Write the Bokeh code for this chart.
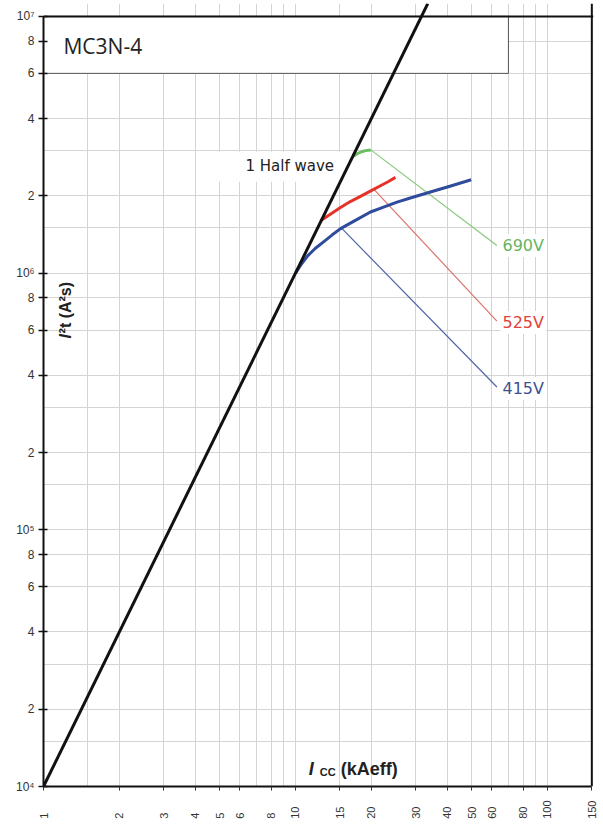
from math import pi
from bokeh.plotting import figure
from bokeh.models import FixedTicker, Span, Label, Range1d
from bokeh.embed import file_html
from bokeh.resources import INLINE

# ---------------- data ----------------
x_tick_values = [1, 2, 3, 4, 5, 6, 8, 10, 15, 20, 30, 40, 50, 60, 80, 100, 150]
x_tick_labels = ["1", "2", "3", "4", "5", "6", "8", "10", "15", "20", "30", "40", "50", "60", "80", "100", "150"]
x_grid_values = [1.5, 2, 3, 4, 5, 6, 7, 8, 9, 10, 15, 20, 30, 40, 50, 60, 70, 80, 90, 100]

y_tick_values = [10000, 20000, 40000, 60000, 80000,
                 100000, 200000, 400000, 600000, 800000,
                 1000000, 2000000, 4000000, 6000000, 8000000, 10000000]
y_tick_labels = ["10⁴", "2", "4", "6", "8",
                 "10⁵", "2", "4", "6", "8",
                 "10⁶", "2", "4", "6", "8", "10⁷"]
y_grid_values = [m * 10 ** e for e in (4, 5, 6) for m in (1, 1.5, 2, 3, 4, 6, 8)]

# 1 half wave line (I²t = I² * 1e4 with I in kA)
half_wave_I = [1.0, 33.5]
half_wave_I2t = [1.0e4, 1.122e7]

# let-through curves
c690_I = [17.0, 17.6, 18.3, 19.0, 19.9]
c690_I2t = [2.85e6, 2.92e6, 2.97e6, 3.0e6, 3.02e6]
c525_I = [12.57, 13.8, 15.09, 16.5, 18.11, 19.9, 21.74, 23.3, 24.93]
c525_I2t = [1.60e6, 1.70e6, 1.80e6, 1.90e6, 1.99e6, 2.09e6, 2.19e6, 2.27e6, 2.36e6]
c415_I = [10.0, 10.5, 11.2, 12.0, 13.0, 14.0, 15.1, 17.0, 19.85, 22.5, 25.3, 29.0, 34.3, 41.0, 49.8]
c415_I2t = [1.0e6, 1.076e6, 1.17e6, 1.25e6, 1.33e6, 1.41e6, 1.49e6, 1.59e6, 1.73e6,
            1.81e6, 1.89e6, 1.97e6, 2.07e6, 2.18e6, 2.31e6]

# leader lines to the voltage labels
l690_I = [19.9, 63.0]
l690_I2t = [3.02e6, 1.28e6]
l525_I = [20.4, 63.0]
l525_I2t = [2.13e6, 6.5e5]
l415_I = [15.3, 63.0]
l415_I2t = [1.49e6, 3.6e5]

voltage_labels = ["690V", "525V", "415V"]
voltage_label_I = [65.1, 65.1, 65.1]
voltage_label_I2t = [1.28e6, 6.42e5, 3.55e5]

GREEN, GREEN_THIN, GREEN_TXT = "#6abf5e", "#86c97b", "#67b45f"
RED, RED_THIN, RED_TXT = "#e5332a", "#d9736c", "#e3423a"
BLUE, BLUE_THIN, BLUE_TXT = "#2f4b9c", "#5066a8", "#3d5193"
voltage_colors = [GREEN_TXT, RED_TXT, BLUE_TXT]

# ---------------- figure ----------------
p = figure(width=600, height=826, x_axis_type="log", y_axis_type="log",
           x_range=Range1d(1, 152.3), y_range=Range1d(1e4, 10 ** 7.0503),
           output_backend="svg", toolbar_location=None,
           min_border_left=43, min_border_right=7, min_border_top=3, min_border_bottom=40,
           background_fill_color="white", border_fill_color="white",
           outline_line_color=None)

# grid
p.xgrid.ticker = FixedTicker(ticks=x_grid_values)
p.ygrid.ticker = FixedTicker(ticks=y_grid_values)
p.xgrid.grid_line_color = "#d4d4d4"
p.ygrid.grid_line_color = "#d4d4d4"
p.xgrid.grid_line_width = 1
p.ygrid.grid_line_width = 1

# left axis
ya = p.yaxis[0]
ya.ticker = FixedTicker(ticks=y_tick_values)
ya.major_label_overrides = dict(zip(y_tick_values, y_tick_labels))
ya.bounds = (1e4, 1e7)
ya.axis_line_width = 2
ya.axis_line_color = "#111111"
ya.major_tick_out = 5
ya.major_tick_in = 4
ya.major_tick_line_width = 1.5
ya.major_tick_line_color = "#111111"
ya.minor_tick_line_color = None
ya.major_label_standoff = 4
ya.major_label_text_font = "Liberation Sans"
ya.major_label_text_font_size = "12px"
ya.major_label_text_color = "#333333"

# bottom axis, vertical labels aligned at their start (padded with no-break spaces)
longest = max(len(t) for t in x_tick_labels)
padded = [t + "\u00a0\u00a0" * (longest - len(t)) for t in x_tick_labels]
xa = p.xaxis[0]
xa.ticker = FixedTicker(ticks=x_tick_values)
xa.major_label_overrides = dict(zip(x_tick_values, padded))
xa.major_label_orientation = pi / 2
xa.bounds = (1, 150)
xa.axis_line_width = 2
xa.axis_line_color = "#111111"
xa.major_tick_out = 4
xa.major_tick_in = 0
xa.major_tick_line_color = "#333333"
xa.minor_tick_line_color = None
xa.major_label_standoff = 10
xa.major_label_text_font = "Liberation Sans"
xa.major_label_text_font_size = "11px"
xa.major_label_text_color = "#333333"

# top and right frame lines
p.add_layout(Span(location=1e7, dimension="width", line_color="#111111", line_width=2))
p.add_layout(Span(location=150, dimension="height", line_color="#111111", line_width=2))

# title box
p.quad(left=[1], right=[70], bottom=[6e6], top=[1e7],
       fill_color="white", line_color="#555555", line_width=1)
p.add_layout(Label(x=1.2, y=7.7e6, text="MC3N-4", text_font="Open Sans",
                   text_font_size="21px", text_baseline="middle", text_color="#222222"))

# white background behind "1 Half wave"
p.quad(left=[4.6], right=[15.8], bottom=[2.27e6], top=[2.97e6],
       fill_color="white", line_color=None)
p.add_layout(Label(x=6.33, y=2.62e6, text="1 Half wave", text_font="DejaVu Sans",
                   text_font_size="15px", text_baseline="middle", text_color="#222222"))

# leader lines
p.line(l690_I, l690_I2t, line_color=GREEN_THIN, line_width=1.2)
p.line(l525_I, l525_I2t, line_color=RED_THIN, line_width=1.2)
p.line(l415_I, l415_I2t, line_color=BLUE_THIN, line_width=1.2)

# curves
p.line(c415_I, c415_I2t, line_color=BLUE, line_width=3, line_join="round")
p.line(c525_I, c525_I2t, line_color=RED, line_width=3, line_join="round")
p.line(c690_I, c690_I2t, line_color=GREEN, line_width=3, line_join="round")
p.line(half_wave_I, half_wave_I2t, line_color="#111111", line_width=3)

# voltage labels
for txt, xi, yi, col in zip(voltage_labels, voltage_label_I, voltage_label_I2t, voltage_colors):
    p.add_layout(Label(x=xi, y=yi, text=txt, text_font="DejaVu Sans", text_font_size="16px",
                       text_baseline="middle", text_align="left", text_color=col,
                       background_fill_color="white", padding=2))

# axis titles
p.add_layout(Label(x=1.22, y=5.56e5, text="I", angle=pi / 2, text_font="Liberation Sans",
                   text_font_size="16px", text_font_style="bold italic",
                   text_baseline="middle", text_align="left", text_color="#222222"))
p.add_layout(Label(x=1.22, y=5.82e5, text="²t (A²s)", angle=pi / 2, text_font="Liberation Sans",
                   text_font_size="16px", text_font_style="bold",
                   text_baseline="middle", text_align="left", text_color="#222222"))

p.add_layout(Label(x=11.28, y=11750, text="I", text_font="Liberation Sans",
                   text_font_size="18px", text_font_style="bold italic",
                   text_baseline="alphabetic", text_align="left", text_color="#222222"))
p.add_layout(Label(x=12.48, y=11440, text="CC", text_font="Liberation Sans",
                   text_font_size="11px", text_font_style="bold",
                   text_baseline="alphabetic", text_align="left", text_color="#222222"))
p.add_layout(Label(x=15.12, y=11750, text="(kAeff)", text_font="Liberation Sans",
                   text_font_size="18px", text_font_style="bold",
                   text_baseline="alphabetic", text_align="left", text_color="#222222"))

open("out.html", "w").write(file_html(p, INLINE))
